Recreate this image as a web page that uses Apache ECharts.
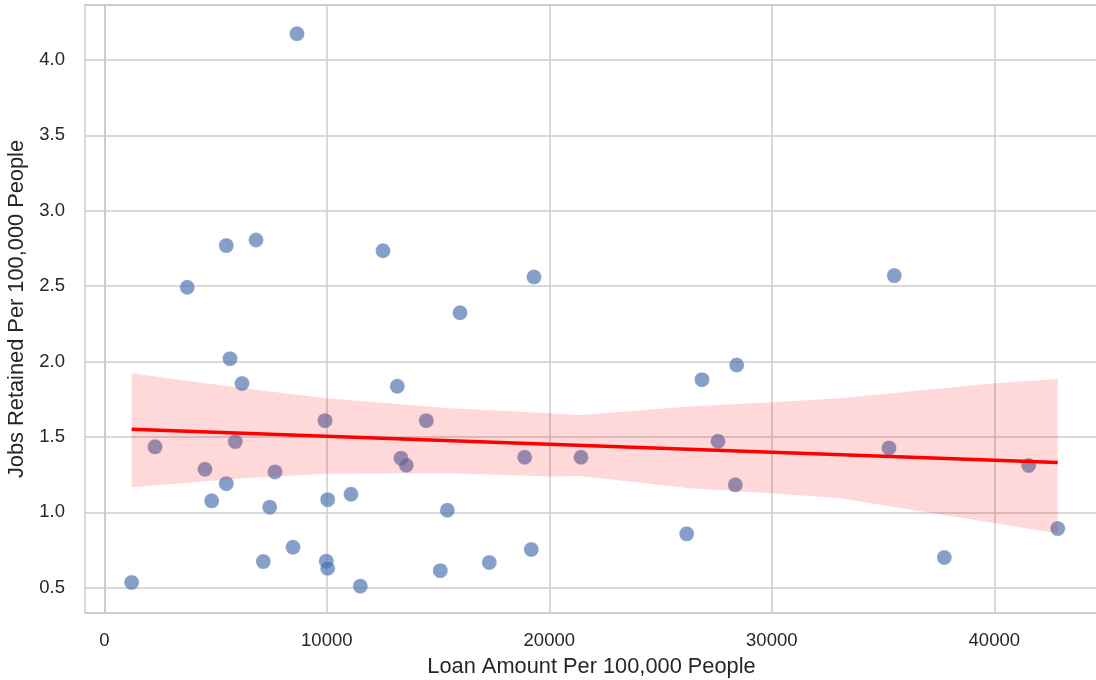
<!DOCTYPE html>
<html>
<head>
<meta charset="utf-8">
<script src="https://cdn.jsdelivr.net/npm/echarts@6/dist/echarts.min.js"></script>
<style>
html,body{margin:0;padding:0;background:#fff;}
#chart{width:1096px;height:680px;}
</style>
</head>
<body>
<div id="chart"></div>
<script>
// Scatter data: loan amount per 100,000 people vs jobs retained per 100,000 people
const loanAmount = [1230, 2280, 3730, 4525, 4827, 5483, 5483, 5650, 5888, 6189,
  6818, 7146, 7434, 7672, 8481, 8661, 9919, 9978, 10040, 10040,
  11088, 11506, 12526, 13169, 13335, 13573, 14472, 15416, 15101, 15987,
  17303, 18894, 19191, 19312, 21425, 26175, 26863, 27582, 28360, 28423,
  35267, 35506, 37753, 41546, 42850];
const jobsRetained = [0.534, 1.434, 2.493, 1.286, 1.076, 1.190, 2.769, 2.019, 1.469, 1.854,
  2.806, 0.673, 1.034, 1.268, 0.768, 4.174, 1.608, 0.676, 0.629, 1.084,
  1.120, 0.510, 2.735, 1.836, 1.359, 1.312, 1.608, 1.014, 0.613, 2.324,
  0.667, 1.365, 0.753, 2.561, 1.365, 0.857, 1.880, 1.471, 1.182, 1.977,
  1.427, 2.570, 0.700, 1.310, 0.892];

// Regression line
const regX = [1230, 42850];
const regY = [1.551, 1.330];

// Confidence band
const ciX     = [1230, 6235, 10000, 15540, 20030, 21380, 26320, 30000, 33070, 40030, 42850];
const ciUpper = [1.922, 1.823, 1.757, 1.690, 1.657, 1.646, 1.701, 1.730, 1.757, 1.856, 1.885];
const ciLower = [1.166, 1.226, 1.255, 1.259, 1.237, 1.241, 1.160, 1.127, 1.093, 0.928, 0.861];

const xTicks = [0, 10000, 20000, 30000, 40000];
const yTicks = [0.5, 1.0, 1.5, 2.0, 2.5, 3.0, 3.5, 4.0];

const points = loanAmount.map((x, i) => [x, jobsRetained[i]]);
const regLine = regX.map((x, i) => [x, regY[i]]);
const bandData = ciX.map((x, i) => [x, ciUpper[i], ciLower[i]]);

const font = '"Liberation Sans", Arial, sans-serif';
const spine = {show: true, lineStyle: {color: '#cccccc', width: 2}};
const chart = echarts.init(document.getElementById('chart'), null, {renderer: 'canvas'});

const X_MIN = -867, X_MAX = 44661;

chart.setOption({
  animation: false,
  backgroundColor: '#ffffff',
  grid: {left: 85, top: 5, right: -2, bottom: 67, show: false, containLabel: false, outerBoundsMode: 'none'},
  xAxis: [{
    type: 'value',
    min: X_MIN, max: X_MAX,
    splitNumber: 5,
    name: 'Loan Amount Per 100,000 People',
    nameLocation: 'middle',
    nameGap: 43,
    nameTextStyle: {fontFamily: font, fontSize: 21.8, color: '#262626'},
    axisLine: spine,
    axisTick: {show: false},
    axisLabel: {
      fontFamily: font, fontSize: 18.5, color: '#262626', margin: 18,
      formatter: v => xTicks.some(t => Math.abs(t - v) < 1e-6) ? String(Math.round(v)) : ''
    },
    splitLine: {show: true, lineStyle: {color: '#cccccc', width: 1.5}}
  }, {
    type: 'value',
    position: 'top',
    min: X_MIN, max: X_MAX,
    axisLine: spine,
    axisTick: {show: false},
    axisLabel: {show: false},
    splitLine: {show: false}
  }],
  yAxis: {
    type: 'value',
    min: 0.332, max: 4.365,
    splitNumber: 8,
    name: 'Jobs Retained Per 100,000 People',
    nameLocation: 'middle',
    nameGap: 51,
    nameTextStyle: {fontFamily: font, fontSize: 21.8, color: '#262626'},
    axisLine: spine,
    axisTick: {show: false},
    axisLabel: {
      fontFamily: font, fontSize: 18.5, color: '#262626', margin: 20,
      formatter: v => yTicks.some(t => Math.abs(t - v) < 1e-6) ? v.toFixed(1) : ''
    },
    splitLine: {show: true, lineStyle: {color: '#cccccc', width: 1.5}}
  },
  series: [
    {
      type: 'scatter',
      data: points,
      symbol: 'circle',
      symbolSize: 15,
      z: 2,
      itemStyle: {color: 'rgba(76,114,176,0.85)', borderColor: 'rgba(255,255,255,0.5)', borderWidth: 0.6}
    },
    {
      type: 'custom',
      z: 3,
      data: bandData,
      renderItem: function (params, api) {
        if (params.dataIndex !== 0) return null;
        const up = [], lo = [];
        for (let i = 0; i < bandData.length; i++) {
          up.push(api.coord([bandData[i][0], bandData[i][1]]));
          lo.unshift(api.coord([bandData[i][0], bandData[i][2]]));
        }
        return {
          type: 'polygon',
          shape: {points: up.concat(lo)},
          style: {fill: 'rgba(255,0,0,0.15)', stroke: null}
        };
      },
      silent: true
    },
    {
      type: 'line',
      data: regLine,
      z: 4,
      symbol: 'none',
      lineStyle: {color: '#ff0000', width: 3.5}
    }
  ]
});
</script>
</body>
</html>
